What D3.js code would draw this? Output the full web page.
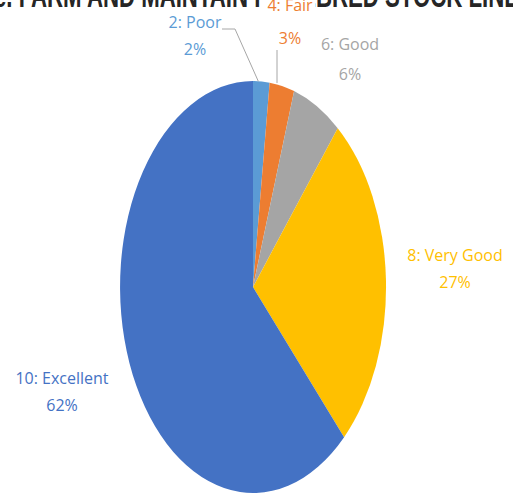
<!DOCTYPE html>
<html>
<head>
<meta charset="utf-8">
<script src="https://cdn.jsdelivr.net/npm/d3@7"></script>
<style>
  html, body { margin: 0; padding: 0; background: #fff; }
  svg { display: block; }
</style>
</head>
<body>
<svg id="chart" width="513" height="498"></svg>
<script>
// ---- data ----
const categories = ["2: Poor", "4: Fair", "6: Good", "8: Very Good", "10: Excellent"];
const values = [2, 3, 6, 27, 62];
const percentLabels = ["2%", "3%", "6%", "27%", "62%"];
const colors = ["#5B9BD5", "#ED7D31", "#A5A5A5", "#FFC000", "#4472C4"];
const titleText = "e. FARM AND MAINTAIN PUREBRED STOCK LINE";

// ---- layout ----
const cx = 253, cy = 287, rx = 133, ry = 206;
const labelPos = [
  { x: 195, y: 28, gap: 27, leader: [[222, 29], [235, 29]] },
  { x: 290, y: 11, gap: 33, leader: [[277, 50], [277, null]] },
  { x: 350, y: 50, gap: 30, leader: null },
  { x: 455, y: 261, gap: 27, leader: null },
  { x: 62, y: 384, gap: 27, leader: null }
];
const fontFam = "'Open Sans', 'Liberation Sans', sans-serif";

const svg = d3.select("#chart");

// title (cropped at the top)
svg.append("text")
  .attr("x", -6).attr("y", 7)
  .attr("textLength", 525).attr("lengthAdjust", "spacingAndGlyphs")
  .attr("font-family", "'Liberation Sans', Arial, sans-serif")
  .attr("font-weight", "bold").attr("font-size", 34)
  .attr("fill", "#262626")
  .text(titleText);

const pie = d3.pie().sort(null).value(d => d)(values);
const arc = d3.arc().innerRadius(0).outerRadius(1);

const g = svg.append("g").attr("transform", `translate(${cx},${cy}) scale(${rx},${ry})`);
g.selectAll("path").data(pie).join("path")
  .attr("d", arc)
  .attr("fill", (d, i) => colors[i]);

function edgePoint(d) {
  const a = (d.startAngle + d.endAngle) / 2;
  return [cx + rx * Math.sin(a), cy - ry * Math.cos(a)];
}

// leader lines
pie.forEach((d, i) => {
  const lp = labelPos[i];
  if (!lp.leader) return;
  const e = edgePoint(d);
  const pts = lp.leader.map(p => [p[0], p[1] === null ? e[1] - 3 : p[1]]);
  if (lp.leader[1][1] !== null) pts.push([e[0] - 3, e[1]]);
  svg.append("path")
    .attr("d", d3.line()(pts))
    .attr("fill", "none")
    .attr("stroke", "#A6A6A6")
    .attr("stroke-width", 1);
});

// labels
pie.forEach((d, i) => {
  const lp = labelPos[i];
  const t = svg.append("text")
    .attr("text-anchor", "middle")
    .attr("font-family", fontFam)
    .attr("font-size", 16)
    .attr("fill", colors[i]);
  t.append("tspan").attr("x", lp.x).attr("y", lp.y).text(categories[i]);
  t.append("tspan").attr("x", lp.x).attr("y", lp.y + lp.gap).text(percentLabels[i]);
  if (i === 1) {
    const bb = t.node().getBBox();
    svg.insert("rect", () => t.node())
      .attr("x", bb.x - 2).attr("y", 0)
      .attr("width", bb.width + 4).attr("height", lp.y + 4)
      .attr("fill", "#fff");
  }
});
</script>
</body>
</html>
